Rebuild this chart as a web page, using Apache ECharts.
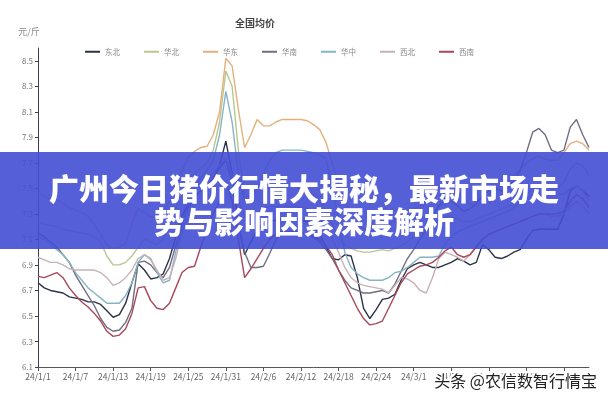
<!DOCTYPE html>
<html><head><meta charset="utf-8">
<script src="https://cdn.jsdelivr.net/npm/echarts@6/dist/echarts.min.js"></script>
<style>html,body{margin:0;padding:0;background:#fff}#c{width:608px;height:400px}</style>
</head><body><div id="c"></div>
<script>
const dates = [
'24/1/1','24/1/2','24/1/3','24/1/4','24/1/5','24/1/6','24/1/7','24/1/8','24/1/9','24/1/10',
'24/1/11','24/1/12','24/1/13','24/1/14','24/1/15','24/1/16','24/1/17','24/1/18','24/1/19','24/1/20',
'24/1/21','24/1/22','24/1/23','24/1/24','24/1/25','24/1/26','24/1/27','24/1/28','24/1/29','24/1/30','24/1/31',
'24/2/1','24/2/2','24/2/3','24/2/4','24/2/5','24/2/6','24/2/7','24/2/8','24/2/9','24/2/10',
'24/2/11','24/2/12','24/2/13','24/2/14','24/2/15','24/2/16','24/2/17','24/2/18','24/2/19','24/2/20',
'24/2/21','24/2/22','24/2/23','24/2/24','24/2/25','24/2/26','24/2/27','24/2/28','24/2/29',
'24/3/1','24/3/2','24/3/3','24/3/4','24/3/5','24/3/6','24/3/7','24/3/8','24/3/9','24/3/10',
'24/3/11','24/3/12','24/3/13','24/3/14','24/3/15','24/3/16','24/3/17','24/3/18','24/3/19','24/3/20',
'24/3/21','24/3/22','24/3/23','24/3/24','24/3/25','24/3/26','24/3/27','24/3/28','24/3/29'];

const yTicks = [6.1,6.3,6.5,6.7,6.9,7.1,7.3,7.5,7.7,7.9,8.1,8.3,8.5];
const regions = ['东北','华北','华东','华南','华中','西北','西南'];

const dongbei = [6.76,6.72,6.70,6.69,6.68,6.65,6.64,6.63,6.61,6.61,
6.59,6.54,6.49,6.51,6.60,6.76,6.91,6.86,6.79,6.80,
6.83,6.95,7.12,7.28,7.38,7.44,7.48,7.52,7.58,7.68,
7.87,7.62,7.22,6.98,7.08,7.18,7.22,7.24,7.25,7.26,
7.26,7.26,7.25,7.24,7.20,7.14,7.04,6.95,6.94,6.98,
6.97,6.80,6.56,6.48,6.55,6.63,6.64,6.67,6.78,6.87,
6.90,6.92,6.90,6.88,6.88,6.90,6.92,6.95,6.93,6.90,
6.92,7.06,7.02,6.96,6.95,6.97,7.00,7.02,7.10,7.17,
7.18,7.18,7.18,7.18,7.30,7.48,7.52,7.48,7.44];

const huabei = [7.24,7.22,7.21,7.20,7.18,7.17,7.16,7.15,7.14,7.12,
7.08,6.97,6.90,6.90,6.92,6.97,7.04,7.10,7.08,7.06,
7.10,7.20,7.35,7.48,7.56,7.62,7.66,7.70,7.80,8.02,
8.42,8.30,7.80,7.45,7.42,7.50,7.52,7.50,7.50,7.52,
7.52,7.52,7.50,7.48,7.45,7.40,7.32,7.22,7.12,7.06,
7.03,7.01,7.00,7.00,7.01,7.02,7.01,7.03,7.05,7.08,
7.12,7.15,7.18,7.22,7.25,7.28,7.28,7.26,7.24,7.24,
7.26,7.28,7.30,7.32,7.34,7.36,7.38,7.40,7.42,7.45,
7.46,7.46,7.45,7.45,7.46,7.50,7.52,7.48,7.40];

const huadong = [7.46,7.44,7.42,7.41,7.38,7.35,7.33,7.31,7.28,7.22,
7.14,7.06,7.03,7.04,7.07,7.22,7.34,7.31,7.28,7.27,
7.31,7.40,7.52,7.64,7.74,7.79,7.82,7.83,7.92,8.10,
8.52,8.46,8.12,7.82,7.92,8.04,7.99,7.99,8.02,8.04,
8.04,8.04,8.04,8.03,8.00,7.96,7.86,7.70,7.52,7.40,
7.30,7.22,7.18,7.16,7.18,7.20,7.22,7.25,7.30,7.32,
7.34,7.36,7.40,7.45,7.50,7.55,7.52,7.48,7.42,7.38,
7.36,7.40,7.45,7.50,7.52,7.55,7.60,7.65,7.70,7.73,
7.75,7.73,7.72,7.72,7.78,7.85,7.87,7.85,7.80];

const huanan = [7.15,7.12,7.08,7.04,6.98,6.92,6.82,6.74,6.66,6.58,
6.48,6.41,6.38,6.39,6.45,6.56,6.92,6.93,6.90,6.84,
6.80,6.88,7.05,7.22,7.35,7.42,7.48,7.52,7.58,7.66,
7.72,7.55,7.20,7.00,6.88,6.88,6.89,6.99,7.10,7.15,
7.16,7.16,7.15,7.14,7.12,7.08,7.02,6.95,6.86,6.78,
6.72,6.70,6.68,6.68,6.69,6.70,6.68,6.75,6.85,6.95,
7.02,7.10,7.18,7.28,7.36,7.42,7.40,7.36,7.32,7.34,
7.38,7.44,7.48,7.50,7.48,7.50,7.56,7.64,7.78,7.94,
7.97,7.92,7.80,7.78,7.80,7.98,8.04,7.92,7.82];

const huazhong = [7.12,7.10,7.06,7.02,6.98,6.92,6.84,6.78,6.72,6.68,
6.64,6.60,6.60,6.60,6.66,6.76,6.92,6.98,6.95,6.84,
6.76,6.78,7.00,7.20,7.38,7.50,7.58,7.64,7.72,7.92,
8.26,8.02,7.62,7.40,7.42,7.50,7.60,7.72,7.78,7.80,
7.80,7.80,7.80,7.79,7.78,7.76,7.73,7.50,7.25,7.00,
6.88,6.83,6.80,6.78,6.78,6.78,6.80,6.84,6.85,6.88,
6.92,6.96,6.96,6.96,6.97,7.06,7.12,7.16,7.18,7.20,
7.22,7.24,7.26,7.28,7.30,7.32,7.35,7.40,7.45,7.50,
7.52,7.52,7.50,7.50,7.55,7.65,7.70,7.68,7.60];

const xibei = [6.96,6.94,6.92,6.92,6.90,6.87,6.86,6.86,6.86,6.86,
6.84,6.80,6.74,6.76,6.80,6.86,6.95,6.98,6.94,6.86,
6.78,6.80,6.95,7.15,7.30,7.40,7.48,7.55,7.62,7.68,
7.74,7.60,7.40,7.28,7.25,7.30,7.34,7.36,7.36,7.36,
7.36,7.36,7.35,7.34,7.32,7.28,7.20,7.10,7.00,6.88,
6.80,6.76,6.74,6.73,6.72,6.71,6.68,6.74,6.80,6.79,
6.76,6.70,6.68,6.80,6.95,7.00,6.98,6.96,6.93,6.98,
7.05,7.10,7.14,7.16,7.18,7.20,7.22,7.24,7.26,7.28,
7.30,7.30,7.28,7.28,7.30,7.36,7.40,7.36,7.30];

const xinan = [6.81,6.80,6.82,6.84,6.80,6.72,6.66,6.61,6.57,6.52,
6.46,6.38,6.34,6.35,6.40,6.52,6.72,6.73,6.62,6.56,
6.55,6.60,6.72,6.84,6.88,6.89,7.04,7.18,7.30,7.40,
7.55,7.40,7.10,6.80,6.87,6.95,7.03,7.10,7.14,7.16,
7.16,7.16,7.15,7.14,7.12,7.10,7.05,6.98,6.86,6.76,
6.66,6.56,6.48,6.43,6.44,6.46,6.56,6.66,6.76,6.83,
6.86,6.89,6.90,6.92,6.96,7.01,7.04,6.98,6.96,6.98,
7.04,7.10,7.14,7.16,7.18,7.20,7.22,7.24,7.26,7.28,
7.30,7.30,7.30,7.30,7.32,7.40,7.45,7.42,7.35];

const seriesData = [dongbei, huabei, huadong, huanan, huazhong, xibei, xinan];
const seriesColors = ['#2c3248','#b9c78f','#e3b07c','#716d82','#86b4c6','#c8b2b6','#a8475a'];

const FONT = '"Noto Sans CJK SC", "Noto Sans", sans-serif';
const chart = echarts.init(document.getElementById('c'), null, {renderer: 'canvas'});
chart.setOption({
  animation: false,
  backgroundColor: '#fff',
  textStyle: {fontFamily: FONT},
  color: seriesColors,
  legend: {
    data: regions, left: 80, top: 43, itemWidth: 15, itemHeight: 2, itemGap: 24,
    icon: 'rect', textStyle: {fontSize: 7.5, color: '#888', fontFamily: FONT}
  },
  grid: {left: 38, right: 19, top: 48, bottom: 33, containLabel: false},
  xAxis: {
    type: 'category', data: dates, boundaryGap: false,
    axisLine: {show: true, lineStyle: {color: '#555', width: 1}},
    axisTick: {show: true, interval: 5, length: 4, lineStyle: {color: '#555'}},
    axisLabel: {interval: 5, fontSize: 8.5, color: '#666', margin: 6, fontFamily: FONT},
    splitLine: {show: false}
  },
  yAxis: {
    type: 'value', min: 6.1, max: 8.6,
    axisLine: {show: true, lineStyle: {color: '#3a3f55', width: 1}},
    axisTick: {show: true, length: 3, customValues: yTicks, lineStyle: {color: '#3a3f55'}},
    axisLabel: {customValues: yTicks, fontSize: 8, color: '#777', margin: 5,
      formatter: v => Number(v).toFixed(1), fontFamily: FONT},
    splitLine: {show: false}
  },
  series: regions.map((name, i) => ({
    name, type: 'line', data: seriesData[i], symbol: 'none', showSymbol: false,
    lineStyle: {width: 1.4, color: seriesColors[i]}, itemStyle: {color: seriesColors[i]},
    emphasis: {disabled: true}
  })),
  graphic: [
    {type: 'text', x: 255, y: 23, style: {text: '全国均价', fill: '#444', font: 'bold 10px ' + FONT, textAlign: 'center', textVerticalAlign: 'middle'}},
    {type: 'text', x: 29, y: 32, style: {text: '元/斤', fill: '#888', font: '9px ' + FONT, textAlign: 'center', textVerticalAlign: 'middle'}},
    {type: 'rect', z: 100, shape: {x: 0, y: 152, width: 608, height: 97}, style: {fill: 'rgba(66,78,212,0.9)'}},
    {type: 'text', z: 101, x: 304, y: 189, style: {text: '广州今日猪价行情大揭秘，最新市场走', fill: '#fff', font: '900 30px ' + FONT, textAlign: 'center', textVerticalAlign: 'middle'}},
    {type: 'text', z: 101, x: 304, y: 222, style: {text: '势与影响因素深度解析', fill: '#fff', font: '900 30px ' + FONT, textAlign: 'center', textVerticalAlign: 'middle'}},
    {type: 'text', z: 101, x: 597, y: 381, style: {text: '头条 @农信数智行情宝', fill: '#fff', stroke: 'rgba(255,255,255,0.95)', lineWidth: 4, font: '16px ' + FONT, textAlign: 'right', textVerticalAlign: 'middle'}},
    {type: 'text', z: 102, x: 597, y: 381, style: {text: '头条 @农信数智行情宝', fill: '#222', font: '16px ' + FONT, textAlign: 'right', textVerticalAlign: 'middle'}}
  ]
});
</script></body></html>
